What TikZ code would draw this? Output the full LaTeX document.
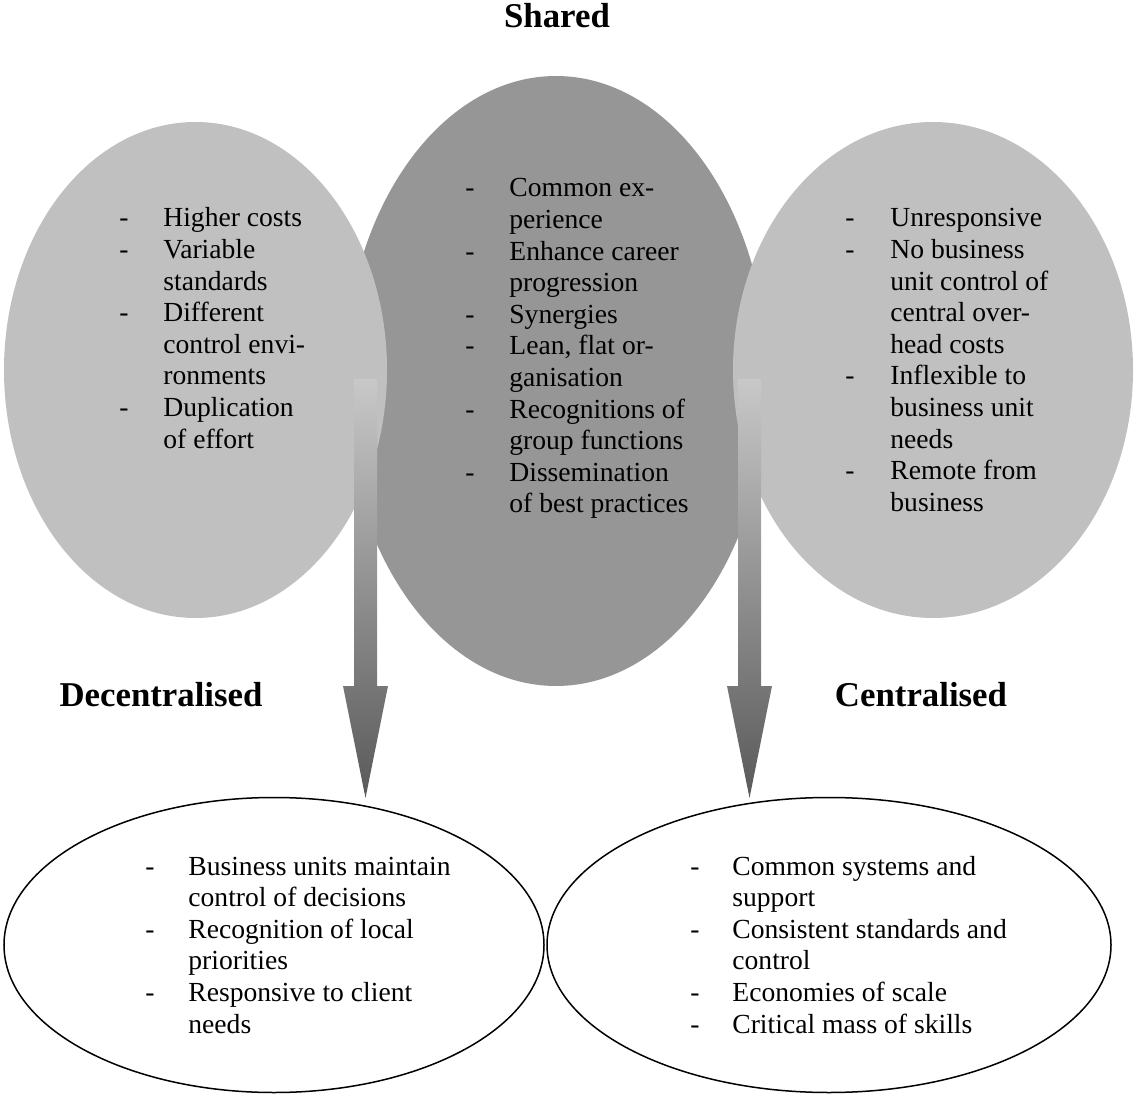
\documentclass[tikz,border=0pt]{standalone}
\usepackage{fontspec}
\setmainfont{Liberation Serif}
\usetikzlibrary{calc}
\usetikzlibrary{positioning}
\usetikzlibrary{shapes.geometric}
\definecolor{LightGrey}{HTML}{C0C0C0}
\definecolor{MidGrey}{HTML}{969696}
\definecolor{ArrowTop}{HTML}{C8C8C8}
\definecolor{ArrowBottom}{HTML}{595959}
\tikzset{
  blob/.style={shape=ellipse,inner sep=0pt,draw=none},
  outline/.style={shape=ellipse,inner sep=0pt,draw=black,line width=0.75pt,fill=white},
  points/.style={anchor=base west,inner sep=0pt,font=\fontsize{13.8}{15.8}\selectfont},
  heading/.style={anchor=base,inner sep=0pt,font=\fontsize{17.4}{20}\selectfont\bfseries}
}

\begin{document}
\begin{tikzpicture}[x=0.5pt,y=-0.5pt]

  \useasboundingbox (0,0) rectangle (1134,1095);

  % the three shaded blobs
  \node[blob,fill=MidGrey,minimum width=212pt,minimum height=305pt] (SharedBlob) at (556,381) {};
  \node[blob,fill=LightGrey,minimum width=191.5pt,minimum height=248pt] (DecBlob) at (195.5,370) {};
  \node[blob,fill=LightGrey,minimum width=200pt,minimum height=248pt] (CenBlob) at (933,370) {};

  % the two open ellipses below
  \node[outline,minimum width=270pt,minimum height=147.5pt] (DecBase) at (274,945) {};
  \node[outline,minimum width=282pt,minimum height=147.5pt] (CenBase) at (829,945) {};

  % headings
  \node[heading] (SharedTitle) at (557,28) {Shared};
  \node[heading] (DecTitle) at (161,706) {Decentralised};
  \node[heading] (CenTitle) at (921,706) {Centralised};

  % lists
  \node[points] (DecPoints) at (119,227) {\begin{tabular}[t]{@{}p{22pt}@{}l@{}}
    - & Higher costs\\
    - & Variable\\
      & standards\\
    - & Different\\
      & control envi-\\
      & ronments\\
    - & Duplication\\
      & of effort
  \end{tabular}};

  \node[points] (SharedPoints) at (465,197) {\begin{tabular}[t]{@{}p{22pt}@{}l@{}}
    - & Common ex-\\
      & perience\\
    - & Enhance career\\
      & progression\\
    - & Synergies\\
    - & Lean, flat or-\\
      & ganisation\\
    - & Recognitions of\\
      & group functions\\
    - & Dissemination\\
      & of best practices
  \end{tabular}};

  \node[points] (CenPoints) at (845,227) {\begin{tabular}[t]{@{}p{22.5pt}@{}l@{}}
    - & Unresponsive\\
    - & No business\\
      & unit control of\\
      & central over-\\
      & head costs\\
    - & Inflexible to\\
      & business unit\\
      & needs\\
    - & Remote from\\
      & business
  \end{tabular}};

  \node[points] (DecBasePoints) at (145,875) {\begin{tabular}[t]{@{}p{21.5pt}@{}l@{}}
    - & Business units maintain\\
      & control of decisions\\
    - & Recognition of local\\
      & priorities\\
    - & Responsive to client\\
      & needs
  \end{tabular}};

  \node[points] (CenBasePoints) at (690,875) {\begin{tabular}[t]{@{}p{21pt}@{}l@{}}
    - & Common systems and\\
      & support\\
    - & Consistent standards and\\
      & control\\
    - & Economies of scale\\
    - & Critical mass of skills
  \end{tabular}};

  % block arrows down to the open ellipses
  \foreach \name/\ax in {Dec/365.5,Cen/749.5}
  {
    \coordinate (\name From) at (\ax,379);
    \coordinate (\name To) at (\ax,798);
    \shade[top color=ArrowTop,bottom color=ArrowBottom]
      ($(\name From)+(-11.5,0)$) -- ($(\name From)+(11.5,0)$)
      -- ($(\name To)+(11.5,-112)$) -- ($(\name To)+(22.5,-112)$)
      -- (\name To)
      -- ($(\name To)+(-22.5,-112)$) -- ($(\name To)+(-11.5,-112)$) -- cycle;
  }

\end{tikzpicture}
\end{document}
